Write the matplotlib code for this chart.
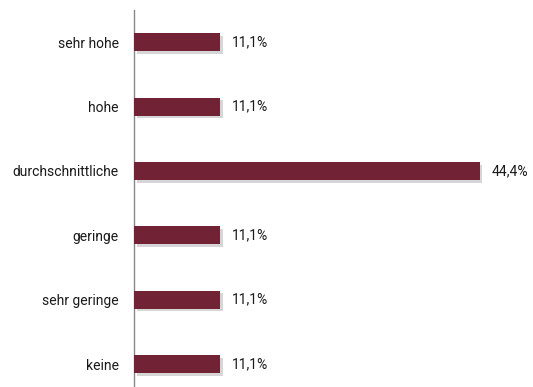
import matplotlib.pyplot as plt
import matplotlib.patheffects as pe

categories = ["keine", "sehr geringe", "geringe", "durchschnittliche", "hohe", "sehr hohe"]
values = [11.1, 11.1, 11.1, 44.4, 11.1, 11.1]
labels = ["11,1%", "11,1%", "11,1%", "44,4%", "11,1%", "11,1%"]

plt.rcParams["font.family"] = ["Roboto", "DejaVu Sans"]

fig = plt.figure(figsize=(5.33, 3.87), dpi=100)
ax = fig.add_axes([0.2514, 0.0, 0.73, 0.974])

pos = range(len(categories))
bars = ax.barh(pos, values, height=0.28, color="#722235", zorder=3)
for b in bars:
    b.set_path_effects([pe.SimplePatchShadow(offset=(2, -2), shadow_rgbFace="#999999", alpha=0.4), pe.Normal()])

# value labels to the right of each bar
for p, v, t in zip(pos, values, labels):
    ax.text(v + 1.5, p, t, va="center", ha="left", fontsize=10, color="#1a1a1a")

ax.set_xlim(0, 50)
ax.set_ylim(-0.357, 5.5)
ax.set_yticks(list(pos))
ax.set_yticklabels(categories, fontsize=10, color="#1a1a1a")
ax.tick_params(axis="y", length=0, pad=11)
ax.set_xticks([])
for s in ["top", "right", "bottom"]:
    ax.spines[s].set_visible(False)
ax.spines["left"].set_color("#888888")
ax.spines["left"].set_linewidth(1)

fig.savefig("out.png", dpi=100)
